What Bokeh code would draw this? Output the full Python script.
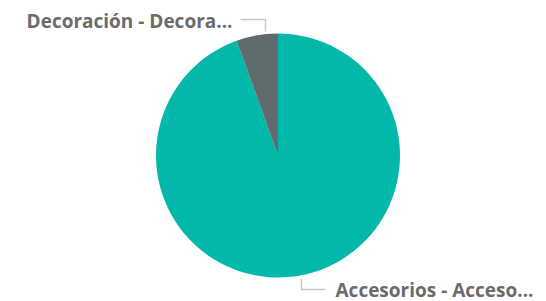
import math
from bokeh.plotting import figure
from bokeh.models import ColumnDataSource, Range1d
from bokeh.embed import file_html
from bokeh.resources import INLINE
from bokeh.core.properties import value

categories = ["Accesorios - Accesorios", "Decoración - Decoración"]
labels = ["Accesorios - Acceso...", "Decoración - Decora..."]
values = [94.5, 5.5]
colors = ["#01B8AA", "#5F6B6D"]

W, H = 546, 301
p = figure(width=W, height=H, output_backend="svg", toolbar_location=None,
           x_range=Range1d(0, W), y_range=Range1d(0, H), min_border=0)
p.axis.visible = False
p.grid.visible = False
p.outline_line_color = None
p.background_fill_color = "white"

cx, cy, r = 277.5, 146, 122
total = sum(values)
# first slice starts at 12 o'clock going clockwise
starts, ends = [], []
acc = 0.0
for v in values:
    a0 = math.pi / 2 - 2 * math.pi * (acc + v) / total
    a1 = math.pi / 2 - 2 * math.pi * acc / total
    starts.append(a0)
    ends.append(a1)
    acc += v

src = ColumnDataSource(dict(start=starts, end=ends, color=colors, cat=categories))
p.wedge(x=cx, y=cy, radius=r, start_angle="start", end_angle="end",
        fill_color="color", line_color=None, source=src)

# leader lines
lead_col = "#c8c8c8"
p.line([240, 265, 265], [282, 282, 270], line_color=lead_col, line_width=1.5)
p.line([301, 301, 325], [23, 12, 12], line_color=lead_col, line_width=1.5)

p.text(x=[232], y=[281], text=[labels[1]], text_align="right", text_baseline="middle",
       text_font=value("Open Sans"), text_font_style="bold", text_font_size="19px",
       text_color="#6b6b6b")
p.text(x=[335], y=[12], text=[labels[0]], text_align="left", text_baseline="middle",
       text_font=value("Open Sans"), text_font_style="bold", text_font_size="19px",
       text_color="#6b6b6b")

open("out.html", "w").write(file_html(p, INLINE))
